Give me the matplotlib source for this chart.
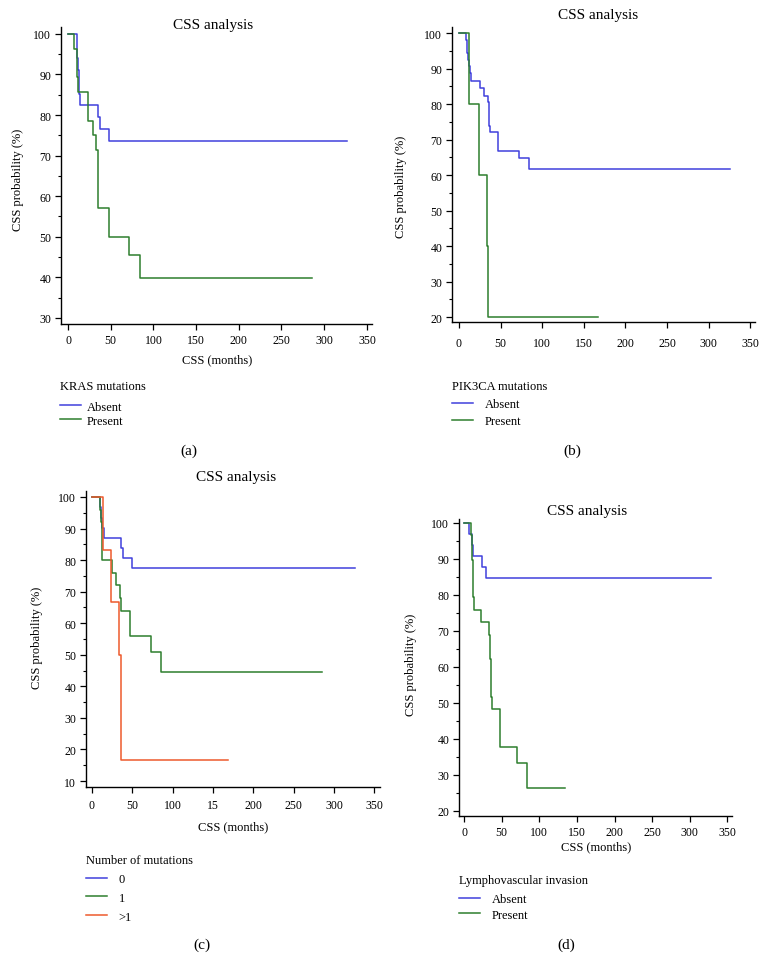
import matplotlib.pyplot as plt
from matplotlib.ticker import MultipleLocator

plt.rcParams['font.family'] = ['Liberation Serif', 'DejaVu Serif']

W, H = 766, 978  # figure size in pixels

# (a) KRAS mutations
kras_absent_t = [0, 10, 11, 12, 12.5, 13, 14, 35, 37, 48, 327]
kras_absent_s = [100, 97.1, 94.1, 91.2, 88.2, 85.3, 82.4, 79.4, 76.5, 73.5, 73.5]
kras_present_t = [0, 7.4, 10.5, 11, 12, 23, 24, 29, 33, 35, 35.3, 35.5, 47.6, 71.4, 84.7, 286]
kras_present_s = [100, 96.4, 92.9, 89.3, 85.7, 82.1, 78.6, 75.0, 71.4, 67.9, 64.3, 57.1, 50.0, 45.5, 39.8, 39.8]

# (b) PIK3CA mutations
pik_absent_t = [0, 8, 9.5, 10, 11, 12, 13, 14, 25, 29.7, 35, 36, 36.5, 37, 47.4, 72.3, 84.3, 326]
pik_absent_s = [100, 98.1, 96.2, 94.3, 92.5, 90.6, 88.7, 86.5, 84.4, 82.4, 80.6, 78.9, 73.7, 72.0, 66.7, 64.7, 61.6, 61.6]
pik_present_t = [0, 12, 24, 33.7, 35.3, 167]
pik_present_s = [100, 80, 60, 40, 20, 20]

# (c) number of mutations
mut0_t = [0, 10.3, 11.5, 13, 14.5, 36, 38.4, 49, 326]
mut0_s = [100, 96.8, 93.5, 90.3, 87.1, 83.9, 80.6, 77.4, 77.4]
mut1_t = [0, 9.5, 11, 12, 12.5, 13, 24.8, 29.8, 34.3, 36, 47.5, 72.7, 86, 285]
mut1_s = [100, 96, 92, 88, 84, 80, 76, 72, 68, 64, 56, 51, 44.7, 44.7]
mut2_t = [0, 13.2, 24, 33.9, 35.5, 36.4, 168]
mut2_s = [100, 83.3, 66.7, 50, 33.3, 16.7, 16.7]

# (d) lymphovascular invasion
lvi_absent_t = [0, 7, 10, 12.4, 23.5, 28.8, 328]
lvi_absent_s = [100, 97, 93.9, 90.9, 87.9, 84.8, 84.8]
lvi_present_t = [0, 9.7, 10.5, 11, 11.5, 12, 12.4, 13.3, 22, 33.6, 34.3, 35, 35.3, 35.6, 35.8,
                 37.6, 47.8, 70.8, 84, 134]
lvi_present_s = [100, 96.6, 93.1, 89.7, 86.2, 82.8, 79.3, 75.9, 72.4, 69.0, 65.5, 62.1, 58.6, 55.2, 51.7,
                 48.3, 37.9, 33.2, 26.5, 26.5]

x_ticks = [0, 50, 100, 150, 200, 250, 300, 350]
x_labels = ['0', '50', '100', '150', '200', '250', '300', '350']
x_labels_c = ['0', '50', '100', '15', '200', '250', '300', '350']  # as printed in the original

BLUE = '#4040dc'
GREEN = '#2e7f2e'
ORANGE = '#ee5a2c'


def fx(x):
    return x / W


def fy(y):
    return 1 - y / H


def make_axes(fig, x0, x1, y0, y1):
    return fig.add_axes([fx(x0), fy(y1), fx(x1 - x0), (y1 - y0) / H])


fig = plt.figure(figsize=(W / 100, H / 100), dpi=100)

# layout of each panel, in pixels
panels = [
    dict(box=(61, 372, 28, 325), xlim=(-8.2, 356), ylim=(28.5, 101.7), ymin=30,
         series=[(kras_absent_t, kras_absent_s, BLUE, 'Absent'),
                 (kras_present_t, kras_present_s, GREEN, 'Present')],
         leg_title='KRAS mutations', leg=(60, 381), htp=0.45, lsp=0.15, tsep=6.3,
         xlabel=(217, 360), ylabel=(18, 180), title=(213, 25), letter=('(a)', 189, 451),
         xpad=3, xl=x_labels),
    dict(box=(452, 755, 28, 323), xlim=(-8.4, 355.8), ylim=(18.6, 101.7), ymin=20,
         series=[(pik_absent_t, pik_absent_s, BLUE, 'Absent'),
                 (pik_present_t, pik_present_s, GREEN, 'Present')],
         leg_title='PIK3CA mutations', leg=(452, 381), htp=0.9, lsp=0.4, tsep=4.3,
         xlabel=None, ylabel=(401, 187), title=(598, 16), letter=('(b)', 572, 451),
         xpad=7, xl=x_labels),
    dict(box=(86, 380, 492, 788), xlim=(-7.4, 357), ylim=(8.1, 101.9), ymin=10,
         series=[(mut0_t, mut0_s, BLUE, '0'),
                 (mut1_t, mut1_s, GREEN, '1'),
                 (mut2_t, mut2_s, ORANGE, '>1')],
         leg_title='Number of mutations', leg=(86, 855), htp=0.9, lsp=0.55, tsep=4.95,
         xlabel=(233, 827), ylabel=(37, 638), title=(236, 478), letter=('(c)', 202, 945),
         xpad=5, xl=x_labels_c),
    dict(box=(459, 732, 520, 817), xlim=(-6.7, 356), ylim=(18.6, 101.1), ymin=20,
         series=[(lvi_absent_t, lvi_absent_s, BLUE, 'Absent'),
                 (lvi_present_t, lvi_present_s, GREEN, 'Present')],
         leg_title='Lymphovascular invasion', leg=(459, 875), htp=0.9, lsp=0.28, tsep=5.3,
         xlabel=(596, 847), ylabel=(411, 665), title=(587, 512), letter=('(d)', 566, 945),
         xpad=3.5, xl=x_labels),
]

for p in panels:
    ax = make_axes(fig, *p['box'])
    handles = []
    for t, s, c, lab in p['series']:
        ln, = ax.step(t, s, where='post', color=c, lw=1.1, label=lab)
        handles.append(ln)
    ax.set_xlim(*p['xlim'])
    ax.set_ylim(*p['ylim'])
    ax.spines['top'].set_visible(False)
    ax.spines['right'].set_visible(False)
    ax.spines['left'].set_linewidth(1.0)
    ax.spines['bottom'].set_linewidth(1.0)
    ax.set_xticks(x_ticks)
    ax.set_xticklabels(p['xl'])
    ax.set_yticks(range(p['ymin'], 101, 10))
    ax.yaxis.set_minor_locator(MultipleLocator(5))
    ax.tick_params(axis='both', which='major', direction='out', length=4, width=0.9,
                   labelsize=8.5, color='black')
    ax.tick_params(axis='y', which='minor', direction='out', length=2.5, width=0.8)
    ax.tick_params(axis='x', which='major', pad=p['xpad'])
    ax.tick_params(axis='y', which='major', pad=3)
    ax.patch.set_alpha(0)

    fig.text(fx(p['title'][0]), fy(p['title'][1]), 'CSS analysis', fontsize=11,
             ha='center', va='center')
    if p['xlabel']:
        fig.text(fx(p['xlabel'][0]), fy(p['xlabel'][1]), 'CSS (months)', fontsize=9,
                 ha='center', va='center')
    fig.text(fx(p['ylabel'][0]), fy(p['ylabel'][1]), 'CSS probability (%)', fontsize=9,
             ha='center', va='center', rotation=90)
    letter, lx, ly = p['letter']
    fig.text(fx(lx), fy(ly), letter, fontsize=11, ha='center', va='center')

    leg = fig.legend(handles=handles, title=p['leg_title'], loc='upper left',
                     bbox_to_anchor=(fx(p['leg'][0]), fy(p['leg'][1])),
                     frameon=False, fontsize=9, title_fontsize=9, alignment='left',
                     borderpad=0, borderaxespad=0, handlelength=1.7,
                     handletextpad=p['htp'], labelspacing=p['lsp'])
    leg._legend_box.sep = p['tsep']  # gap between legend title and entries

fig.savefig('out.png', dpi=100)
